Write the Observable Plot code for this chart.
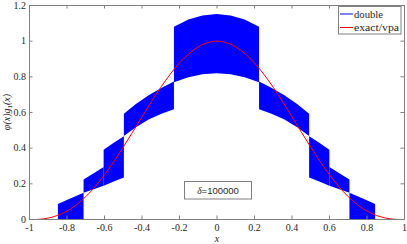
<!DOCTYPE html>
<html><head><meta charset="utf-8">
<script src="https://cdn.jsdelivr.net/npm/d3@7"></script>
<script src="https://cdn.jsdelivr.net/npm/@observablehq/plot@0.6"></script>
<style>body{margin:0;background:#fff}</style>
</head><body><div id="chart"></div>
<script>
const xTicks = [-1,-0.8,-0.6,-0.4,-0.2,0,0.2,0.4,0.6,0.8,1];
const xTickLabels = ["-1","-0.8","-0.6","-0.4","-0.2","0","0.2","0.4","0.6","0.8","1"];
const yTicks = [0,0.2,0.4,0.6,0.8,1,1.2];
const yTickLabels = ["0","0.2","0.4","0.6","0.8","1","1.2"];

// exact/vpa curve
const exactX = [-1,-0.95,-0.9,-0.85,-0.8,-0.75,-0.7,-0.65,-0.6,-0.55,-0.5,-0.45,-0.4,-0.35,-0.3,-0.25,-0.2,-0.15,-0.1,-0.05,0,
  0.05,0.1,0.15,0.2,0.25,0.3,0.35,0.4,0.45,0.5,0.55,0.6,0.65,0.7,0.75,0.8,0.85,0.9,0.95,1];
const exactY = [0,0.001,0.008,0.023,0.047,0.082,0.128,0.184,0.251,0.325,0.406,0.49,0.576,0.661,0.741,0.814,0.878,0.929,0.968,0.992,1,
  0.992,0.968,0.929,0.878,0.814,0.741,0.661,0.576,0.49,0.406,0.325,0.251,0.184,0.128,0.082,0.047,0.023,0.008,0.001,0];

// double band, one segment per piece
const bandSeg = [1,1,1, 2,2,2, 3,3,3, 4,4,4,4,4, 5,5,5,5,5,5,5, 6,6,6,6,6, 7,7,7, 8,8,8, 9,9,9];
const bandX = [-0.846,-0.78,-0.709, -0.709,-0.655,-0.602, -0.602,-0.548,-0.494, -0.494,-0.43,-0.36,-0.29,-0.227,
  -0.227,-0.15,-0.075,0,0.075,0.15,0.227, 0.227,0.29,0.36,0.43,0.494, 0.494,0.548,0.602, 0.602,0.655,0.709, 0.709,0.78,0.846];
const bandHi = [0.084,0.115,0.147, 0.222,0.257,0.292, 0.389,0.427,0.464, 0.59,0.645,0.695,0.737,0.771,
  1.078,1.118,1.141,1.149,1.141,1.118,1.078, 0.771,0.737,0.695,0.645,0.59, 0.464,0.427,0.389, 0.292,0.257,0.222, 0.147,0.115,0.084];
const bandLo = [0,0,0, 0.147,0.167,0.186, 0.186,0.21,0.233, 0.465,0.515,0.56,0.592,0.615,
  0.767,0.795,0.812,0.817,0.812,0.795,0.767, 0.615,0.592,0.56,0.515,0.465, 0.233,0.21,0.186, 0.186,0.167,0.147, 0,0,0];

// double result equal to zero near the ends
const zeroSeg = [1,1,2,2];
const zeroX = [-1,-0.846,0.846,1];
const zeroY = [0,0,0,0];

const band = bandX.map((x,i)=>({x, lo: bandLo[i], hi: bandHi[i], seg: bandSeg[i]}));
const exact = exactX.map((x,i)=>({x, y: exactY[i]}));
const zeros = zeroX.map((x,i)=>({x, y: zeroY[i], seg: zeroSeg[i]}));

const W=407, H=244, mL=29, mR=3, mT=5, mB=25;
const plotH = H-mT-mB, plotW = W-mL-mR;
const axisCol = "#808080";

const chart = Plot.plot({
  width: W, height: H, marginLeft: mL, marginRight: mR, marginTop: mT, marginBottom: mB,
  style: {fontFamily: "Liberation Serif", fontSize: "10px", color: "#262626", background: "white"},
  x: {domain: [-1,1]},
  y: {domain: [0,1.2]},
  marks: [
    Plot.areaY(band, {x:"x", y1:"lo", y2:"hi", z:"seg", fill:"#0000ff", curve:"linear"}),
    Plot.line(zeros, {x:"x", y:"y", z:"seg", stroke:"#8080ff", strokeWidth:1}),
    Plot.line(exact, {x:"x", y:"y", stroke:"#ff0000", strokeWidth:1, curve:"catmull-rom"}),
    Plot.frame({stroke: axisCol, strokeWidth: 1}),
    Plot.tickX(xTicks, {x: d=>d, insetTop: plotH-3.5, stroke: axisCol}),
    Plot.tickX(xTicks, {x: d=>d, insetBottom: plotH-3.5, stroke: axisCol}),
    Plot.tickY(yTicks, {y: d=>d, insetRight: plotW-3.5, stroke: axisCol}),
    Plot.tickY(yTicks, {y: d=>d, insetLeft: plotW-3.5, stroke: axisCol}),
    Plot.axisX({ticks: xTicks, tickSize: 0, tickPadding: 4, tickFormat: d => xTickLabels[xTicks.indexOf(d)], label: null}),
    Plot.axisY({ticks: yTicks, tickSize: 0, tickPadding: 3.5, tickFormat: d => yTickLabels[yTicks.indexOf(d)], label: null})
  ]
});
document.getElementById("chart").appendChild(chart);

const svg = d3.select(chart);
// axis labels
const yl = svg.append("text").attr("transform","translate(9.5,112) rotate(-90)")
  .attr("text-anchor","middle").attr("font-style","italic").attr("font-size",10)
  .attr("fill","#262626").attr("font-family","Liberation Serif");
yl.append("tspan").text("φ(x)g");
yl.append("tspan").attr("font-size",7).attr("dy",2).attr("font-style","normal").text("1");
yl.append("tspan").attr("dy",-2).text("(x)");

svg.append("text").attr("x",217).attr("y",241.5).attr("text-anchor","middle")
  .attr("font-style","italic").attr("font-size",10).attr("fill","#262626")
  .attr("font-family","Liberation Serif").text("x");

// legend
const lg = svg.append("g").attr("text-anchor","start");
lg.append("rect").attr("x",338.5).attr("y",6.5).attr("width",62.5).attr("height",27.5)
  .attr("fill","white").attr("stroke",axisCol);
lg.append("line").attr("x1",340).attr("x2",353).attr("y1",14).attr("y2",14)
  .attr("stroke","#8080ff").attr("stroke-width",2);
lg.append("line").attr("x1",340).attr("x2",353).attr("y1",27.5).attr("y2",27.5)
  .attr("stroke","#ff0000").attr("stroke-width",1);
lg.append("text").attr("x",354).attr("y",17.5).attr("text-anchor","start").attr("font-size",10).attr("fill","#262626")
  .attr("font-family","Liberation Serif").attr("textLength",29).attr("lengthAdjust","spacingAndGlyphs").text("double");
lg.append("text").attr("x",354).attr("y",30.5).attr("text-anchor","start").attr("font-size",10).attr("fill","#262626")
  .attr("font-family","Liberation Serif").attr("textLength",45).attr("lengthAdjust","spacingAndGlyphs").text("exact/vpa");

// delta annotation
const db = svg.append("g");
db.append("rect").attr("x",184.5).attr("y",181.5).attr("width",67).attr("height",17.5)
  .attr("fill","white").attr("stroke",axisCol);
const dt = db.append("text").attr("x",218).attr("y",193.8).attr("text-anchor","middle")
  .attr("font-size",9.5).attr("fill","#262626").attr("font-family","Liberation Sans");
dt.append("tspan").attr("font-family","Liberation Serif").attr("font-style","italic").text("δ");
dt.append("tspan").text("=100000");
</script>
</body></html>
